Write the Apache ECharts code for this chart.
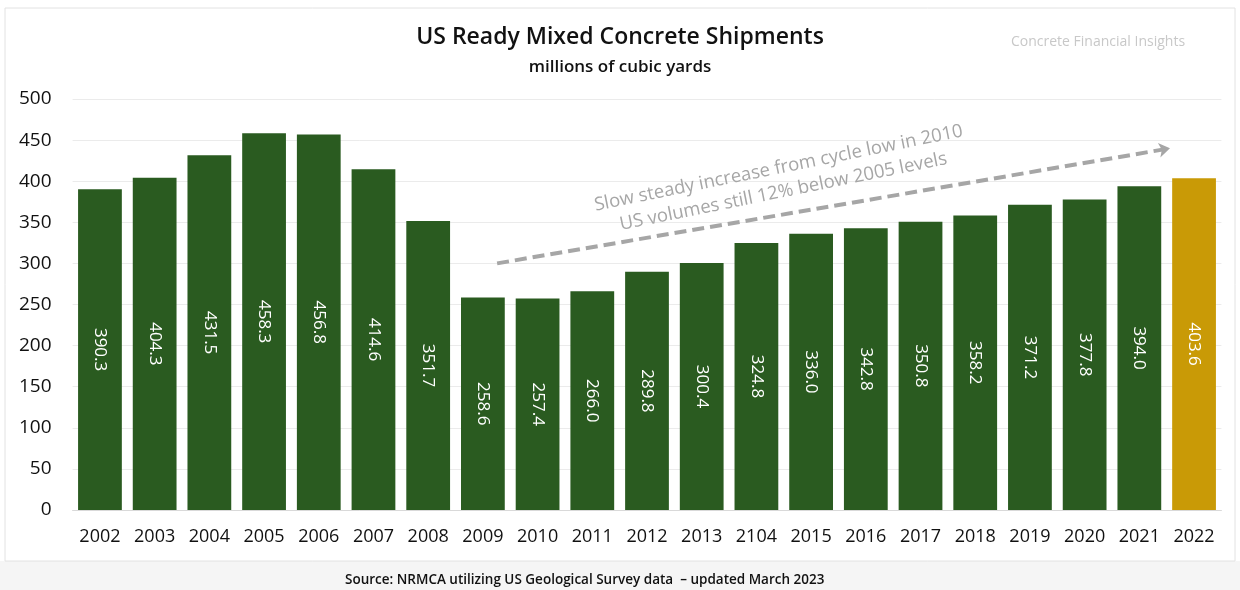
<!DOCTYPE html>
<html><head><meta charset="utf-8">
<script src="https://cdn.jsdelivr.net/npm/echarts@6/dist/echarts.min.js"></script>
<style>html,body{margin:0;padding:0;background:#fff}#c{width:1240px;height:590px}</style>
</head><body><div id="c"></div>
<script>
const years = ['2002','2003','2004','2005','2006','2007','2008','2009','2010','2011','2012','2013','2104','2015','2016','2017','2018','2019','2020','2021','2022'];
const shipments = [390.3,404.3,431.5,458.3,456.8,414.6,351.7,258.6,257.4,266.0,289.8,300.4,324.8,336.0,342.8,350.8,358.2,371.2,377.8,394.0,403.6];
const yTicks = [0,50,100,150,200,250,300,350,400,450,500];
const highlightYear = '2022';
// trend arrow in (category index, value) units
const trendStart = [7.26, 300];
const trendEnd = [19.56, 440];

const FONT = "'Open Sans', 'Noto Sans', sans-serif";
const GREEN = '#2a5b20', GOLD = '#c99a06';
const chart = echarts.init(document.getElementById('c'), null, {renderer:'canvas'});
chart.setOption({
  backgroundColor: '#fff',
  animation: false,
  textStyle: {fontFamily: FONT},
  title: [
    {text: 'US Ready Mixed Concrete Shipments', left: 'center', top: 21,
     textStyle: {fontFamily: FONT, fontSize: 23, fontWeight: 600, color: '#111'}},
    {text: 'millions of cubic yards', left: 'center', top: 54,
     textStyle: {fontFamily: FONT, fontSize: 17, fontWeight: 600, color: '#111'}},
    {text: 'Concrete Financial Insights', left: 1006, top: 30,
     textStyle: {fontFamily: FONT, fontSize: 14, fontWeight: 400, color: '#c8c8c8'}},
    {text: 'Source: NRMCA utilizing US Geological Survey data  \u2013 updated March 2023', left: 340, top: 568,
     textStyle: {fontFamily: FONT, fontSize: 13.5, fontWeight: 600, color: '#111'}}
  ],
  graphic: [
    {type: 'rect', z: -10, silent: true, shape: {x: 0, y: 561, width: 1240, height: 29}, style: {fill: '#f5f5f5'}},
    {type: 'rect', z: -9, silent: true, shape: {x: 5, y: 8, width: 1230, height: 553}, style: {fill: 'none', stroke: '#e2e2e2', lineWidth: 1}},
    {type: 'text', z: 10, silent: true, x: 781, y: 180, rotation: 0.20,
     style: {text: 'Slow steady increase from cycle low in 2010\nUS volumes still 12% below 2005 levels',
             fontFamily: FONT, fontSize: 18.5, lineHeight: 24, fill: '#a6a6a6', align: 'center', verticalAlign: 'middle'}}
  ],
  grid: {left: 72.6, right: 18.6, top: 99, bottom: 80, containLabel: false},
  xAxis: [{
    type: 'category', data: years,
    axisLine: {show: true, lineStyle: {color: '#d9d9d9', width: 1}},
    axisTick: {show: false},
    axisLabel: {color: '#111', fontSize: 18, fontFamily: FONT, margin: 18, interval: 0}
  }, {
    type: 'value', show: false, min: -0.5, max: years.length - 0.5
  }],
  yAxis: {
    type: 'value', min: yTicks[0], max: yTicks[yTicks.length-1], interval: yTicks[1]-yTicks[0],
    axisLine: {show: false}, axisTick: {show: false},
    axisLabel: {color: '#111', fontSize: 19, fontFamily: FONT, margin: 21},
    splitLine: {lineStyle: {color: '#ebebeb', width: 1}}
  },
  series: [{
    type: 'bar', barCategoryGap: '20%',
    data: shipments.map((v, i) => ({value: v, itemStyle: {color: years[i] === highlightYear ? GOLD : GREEN}})),
    label: {show: true, position: 'inside', rotate: -90, color: '#fff', fontSize: 17, fontWeight: 500, fontFamily: FONT,
            formatter: p => p.value.toFixed(1)}
  }, {
    type: 'line', xAxisIndex: 1, data: [], silent: true,
    markLine: {
      silent: true, symbol: ['none', 'arrow'], symbolSize: [11, 11],
      label: {show: false},
      lineStyle: {color: '#a6a6a6', type: [12, 6], width: 4},
      data: [[{coord: trendStart}, {coord: trendEnd}]]
    }
  }]
});
</script></body></html>
